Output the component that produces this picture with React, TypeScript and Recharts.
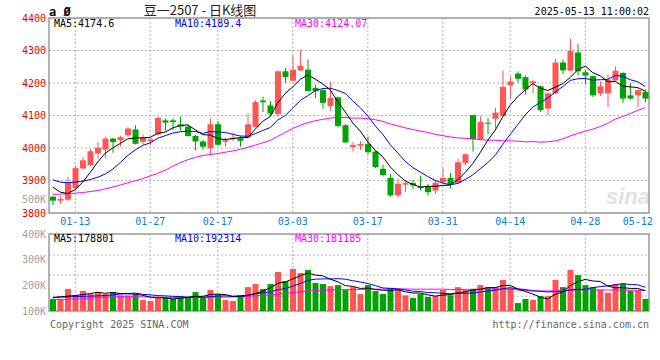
import React from 'react';
import { ComposedChart, Bar, Line, XAxis, YAxis, CartesianGrid, ReferenceArea, Cell } from 'recharts';

// 豆一2507 daily K line, 2025-01-08 .. 2025-05-13
const dates = [
  '01-08', '01-09', '01-10', '01-13', '01-14', '01-15', '01-16', '01-17', '01-20', '01-21',
  '01-22', '01-23', '01-24', '01-27', '02-05', '02-06', '02-07', '02-10', '02-11', '02-12',
  '02-13', '02-14', '02-17', '02-18', '02-19', '02-20', '02-21', '02-24', '02-25', '02-26',
  '02-27', '02-28', '03-03', '03-04', '03-05', '03-06', '03-07', '03-10', '03-11', '03-12',
  '03-13', '03-14', '03-17', '03-18', '03-19', '03-20', '03-21', '03-24', '03-25', '03-26',
  '03-27', '03-28', '03-31', '04-01', '04-02', '04-03', '04-07', '04-08', '04-09', '04-10',
  '04-11', '04-14', '04-15', '04-16', '04-17', '04-18', '04-21', '04-22', '04-23', '04-24',
  '04-25', '04-28', '04-29', '04-30', '05-06', '05-07', '05-08', '05-09', '05-12', '05-13',
];

const opens = [
  3850, 3838, 3841, 3876, 3937, 3947, 3983, 3995, 4029, 4024,
  4039, 4057, 4019, 4021, 4042, 4085, 4085, 4073, 4066, 4037,
  4020, 3999, 4073, 4019, 4027, 4030, 4032, 4065, 4146, 4131,
  4104, 4236, 4207, 4239, 4241, 4185, 4178, 4129, 4156, 4070,
  4003, 4007, 4012, 3989, 3936, 3908, 3854, 3887, 3892, 3880,
  3880, 3869, 3895, 3908, 3893, 3954, 4101, 4027, 4078, 4090,
  4098, 4193, 4229, 4218, 4200, 4190, 4121, 4168, 4263, 4238,
  4294, 4233, 4221, 4168, 4168, 4208, 4231, 4162, 4162, 4172,
];
const highs = [
  3853, 3852, 3911, 3946, 3972, 3997, 4018, 4034, 4031, 4038,
  4064, 4070, 4042, 4033, 4096, 4090, 4092, 4097, 4073, 4040,
  4025, 4091, 4083, 4032, 4048, 4037, 4106, 4147, 4158, 4144,
  4238, 4246, 4284, 4302, 4272, 4195, 4185, 4205, 4158, 4073,
  4019, 4021, 4035, 3991, 3949, 3920, 3907, 3897, 3902, 3915,
  3890, 3902, 3938, 3923, 3968, 3983, 4101, 4098, 4093, 4124,
  4239, 4219, 4236, 4223, 4210, 4192, 4170, 4275, 4272, 4336,
  4320, 4241, 4223, 4205, 4226, 4251, 4233, 4200, 4183, 4180,
];
const lows = [
  3825, 3828, 3836, 3872, 3934, 3944, 3967, 3970, 3985, 4004,
  4034, 4011, 4011, 4009, 4038, 4053, 4055, 4053, 4035, 3992,
  3995, 3978, 4007, 4004, 4022, 4004, 4029, 4063, 4111, 4099,
  4096, 4200, 4205, 4236, 4175, 4154, 4121, 4114, 4063, 4017,
  3989, 3994, 3981, 3938, 3912, 3851, 3847, 3864, 3873, 3869,
  3854, 3859, 3893, 3875, 3890, 3946, 3989, 4027, 4042, 4060,
  4098, 4152, 4200, 4165, 4168, 4111, 4100, 4168, 4226, 4236,
  4223, 4195, 4156, 4160, 4126, 4205, 4139, 4149, 4126, 4141,
];
const closes = [
  3838, 3843, 3893, 3938, 3962, 3990, 4001, 4029, 4018, 4033,
  4060, 4013, 4033, 4026, 4093, 4078, 4080, 4066, 4037, 4020,
  4004, 4073, 4010, 4024, 4032, 4022, 4073, 4141, 4141, 4106,
  4236, 4218, 4241, 4253, 4175, 4175, 4139, 4154, 4068, 4017,
  4009, 4012, 3987, 3941, 3917, 3854, 3890, 3892, 3885, 3877,
  3864, 3893, 3908, 3888, 3956, 3981, 4027, 4080, 4076, 4109,
  4188, 4205, 4213, 4180, 4205, 4117, 4168, 4263, 4239, 4299,
  4236, 4223, 4162, 4190, 4210, 4238, 4152, 4152, 4178, 4152,
];

const ma5 = [
  3880, 3864, 3860, 3872, 3895, 3925, 3957, 3984, 4000, 4014,
  4028, 4031, 4031, 4033, 4045, 4049, 4062, 4069, 4071, 4056,
  4041, 4040, 4029, 4026, 4029, 4032, 4032, 4058, 4082, 4097,
  4139, 4168, 4188, 4211, 4225, 4212, 4197, 4179, 4142, 4111,
  4077, 4052, 4019, 3993, 3973, 3942, 3918, 3899, 3888, 3880,
  3882, 3882, 3885, 3886, 3902, 3925, 3952, 3986, 4024, 4055,
  4096, 4132, 4158, 4179, 4198, 4184, 4177, 4187, 4198, 4217,
  4241, 4252, 4232, 4222, 4204, 4205, 4190, 4188, 4186, 4175,
];
const ma10 = [
  3902, 3895, 3893, 3895, 3898, 3903, 3910, 3920, 3935, 3955,
  3977, 3994, 4008, 4016, 4030, 4038, 4046, 4050, 4052, 4051,
  4045, 4051, 4049, 4048, 4042, 4037, 4036, 4044, 4054, 4063,
  4086, 4100, 4123, 4146, 4161, 4176, 4183, 4184, 4177, 4168,
  4145, 4124, 4099, 4068, 4042, 4010, 3985, 3959, 3940, 3926,
  3912, 3900, 3892, 3887, 3891, 3903, 3917, 3936, 3955, 3978,
  4011, 4042, 4072, 4102, 4126, 4140, 4154, 4172, 4189, 4208,
  4213, 4214, 4209, 4210, 4211, 4223, 4221, 4210, 4204, 4189,
];
const ma30 = [
  3857, 3858, 3859, 3861, 3863, 3866, 3869, 3874, 3880, 3886,
  3893, 3899, 3906, 3914, 3922, 3932, 3944, 3955, 3964, 3971,
  3977, 3980, 3983, 3987, 3991, 3996, 4002, 4009, 4016, 4023,
  4036, 4048, 4060, 4070, 4078, 4084, 4088, 4092, 4094, 4094,
  4092, 4092, 4090, 4087, 4082, 4074, 4068, 4062, 4057, 4052,
  4048, 4042, 4038, 4034, 4031, 4030, 4028, 4026, 4024, 4024,
  4022, 4022, 4021, 4019, 4020, 4018, 4019, 4022, 4028, 4037,
  4045, 4052, 4058, 4066, 4076, 4089, 4097, 4106, 4116, 4124,
];

const volumes = [
  147000, 146000, 186000, 161000, 178000, 166000, 174000, 166000, 174000, 161000,
  161000, 166000, 143000, 139000, 153000, 153000, 147000, 157000, 153000, 174000,
  153000, 182000, 166000, 143000, 139000, 161000, 193000, 205000, 186000, 205000,
  252000, 217000, 264000, 248000, 260000, 209000, 205000, 197000, 201000, 182000,
  193000, 166000, 201000, 178000, 166000, 190000, 182000, 161000, 151000, 166000,
  155000, 158000, 182000, 161000, 193000, 182000, 186000, 201000, 193000, 193000,
  221000, 190000, 131000, 147000, 143000, 158000, 158000, 221000, 193000, 260000,
  240000, 201000, 193000, 182000, 171000, 205000, 205000, 179000, 182000, 147000,
];
const volMa5 = [
  152000, 155000, 158000, 160000, 164000, 168000, 173000, 169000, 172000, 168000,
  167000, 166000, 161000, 154000, 152000, 151000, 147000, 150000, 153000, 157000,
  157000, 164000, 166000, 164000, 157000, 158000, 160000, 168000, 177000, 190000,
  208000, 213000, 225000, 237000, 248000, 240000, 237000, 224000, 214000, 199000,
  196000, 188000, 189000, 184000, 181000, 180000, 183000, 175000, 170000, 170000,
  163000, 158000, 162000, 164000, 170000, 175000, 181000, 185000, 191000, 191000,
  199000, 200000, 186000, 176000, 166000, 154000, 147000, 165000, 175000, 198000,
  214000, 223000, 217000, 215000, 197000, 190000, 191000, 188000, 188000, 178801,
];
const volMa10 = [
  153000, 154000, 155000, 156000, 157000, 158000, 159000, 160000, 163000, 166000,
  168000, 170000, 165000, 163000, 160000, 159000, 157000, 156000, 154000, 155000,
  154000, 156000, 158000, 159000, 157000, 158000, 162000, 167000, 171000, 174000,
  183000, 187000, 197000, 207000, 219000, 224000, 225000, 225000, 226000, 224000,
  218000, 213000, 207000, 199000, 190000, 188000, 186000, 182000, 177000, 176000,
  172000, 171000, 169000, 167000, 170000, 169000, 170000, 174000, 178000, 181000,
  187000, 191000, 186000, 184000, 179000, 177000, 174000, 176000, 176000, 182000,
  184000, 185000, 191000, 195000, 198000, 202000, 207000, 203000, 202000, 192314,
];
const volMa30 = [
  145000, 145000, 146000, 147000, 148000, 150000, 152000, 154000, 155000, 156000,
  156000, 156000, 155000, 154000, 154000, 153000, 153000, 153000, 153000, 153000,
  153000, 154000, 154000, 154000, 155000, 155000, 157000, 159000, 161000, 163000,
  166000, 169000, 172000, 175000, 178000, 180000, 181000, 182000, 183000, 183000,
  184000, 184000, 185000, 185000, 185000, 186000, 186000, 186000, 185000, 185000,
  185000, 185000, 185000, 184000, 184000, 184000, 185000, 185000, 186000, 186000,
  185000, 184000, 182000, 180000, 178000, 178000, 178000, 179000, 180000, 181000,
  182000, 182000, 183000, 182000, 182000, 182000, 181000, 181000, 181000, 181185,
];

const tickDates = ['01-13', '01-27', '02-17', '03-03', '03-17', '03-31', '04-14', '04-28', '05-12'];
const gridDates = tickDates.slice(0, -1);
const priceTicks = [3800, 3900, 4000, 4100, 4200, 4300, 4400];
const volTicks = [100000, 200000, 300000, 400000];
const volGrid = [158000, 240000, 318000];

const RED = '#ff5555';
const GREEN = '#00a400';
const MONO = '"DejaVu Sans Mono", monospace';

const rows = dates.map((d, i) => ({
  date: d,
  open: opens[i],
  high: highs[i],
  low: lows[i],
  close: closes[i],
  range: [lows[i], highs[i]],
  ma5: ma5[i],
  ma10: ma10[i],
  ma30: ma30[i],
  vol: volumes[i],
  vma5: volMa5[i],
  vma10: volMa10[i],
  vma30: volMa30[i],
}));

function Candle(props: any) {
  const { x, y, width, height, payload } = props;
  if (!payload) return null;
  const { open, close, high, low } = payload;
  const top0 = height < 0 ? y + height : y;
  const h = Math.abs(height);
  const span = high - low || 1;
  const py = (v: number) => top0 + ((high - v) / span) * h;
  const cx = x + width / 2;
  const bTop = py(Math.max(open, close));
  const bBot = py(Math.min(open, close));
  const color = close >= open ? RED : GREEN;
  return (
    <g>
      <line x1={cx} x2={cx} y1={top0} y2={top0 + h} stroke={color} strokeWidth={1} />
      <rect x={x} y={bTop} width={width} height={Math.max(bBot - bTop, 1)} fill={color} />
    </g>
  );
}

const lbl = { fontFamily: MONO, fontSize: 10 };

export default function App() {
  return (
    <div style={{ position: 'absolute', left: 0, top: 0, width: 660, height: 360, background: '#fff' }}>
      <svg width={660} height={360} style={{ position: 'absolute', left: 0, top: 0 }}>
        <text x={650} y={204} textAnchor="end" fontFamily="Verdana, sans-serif" fontStyle="italic" fontWeight="bold" fontSize={22} fill="#e2e2e2">sina</text>
      </svg>

      <div style={{ position: 'absolute', left: 0, top: 0 }}>
        <ComposedChart width={660} height={232} data={rows} margin={{ top: 18, right: 11, bottom: 0, left: 0 }}>
          <CartesianGrid stroke="#b4b4b4" strokeDasharray="2 2" verticalValues={gridDates} />
          <ReferenceArea y1={3800} y2={4400} fill="none" stroke="#9a9a9a" strokeWidth={1.5} />
          <XAxis dataKey="date" ticks={tickDates} interval={0} tickLine={false} axisLine={false} tickSize={0} tickMargin={5} height={19} tick={{ ...lbl, fill: '#0a7fd8' }} />
          <YAxis domain={[3800, 4400]} ticks={priceTicks} interval={0} width={49} tickLine={false} axisLine={false} tickSize={0} tickMargin={3} allowDataOverflow tick={{ ...lbl, fill: '#ee0000' }} />
          <Bar dataKey="range" barSize={6} shape={(p: any) => <Candle {...p} />} isAnimationActive={false} />
          <Line dataKey="ma30" stroke="#ff00ff" strokeWidth={1} dot={false} activeDot={false} isAnimationActive={false} />
          <Line dataKey="ma10" stroke="#0000ff" strokeWidth={1} dot={false} activeDot={false} isAnimationActive={false} />
          <Line dataKey="ma5" stroke="#000000" strokeWidth={1} dot={false} activeDot={false} isAnimationActive={false} />
        </ComposedChart>
      </div>

      <div style={{ position: 'absolute', left: 0, top: 226 }}>
        <ComposedChart width={660} height={92} data={rows} margin={{ top: 8, right: 11, bottom: 7, left: 0 }}>
          <CartesianGrid stroke="#b4b4b4" strokeDasharray="2 2" verticalValues={gridDates} horizontalValues={volGrid} />
          <ReferenceArea y1={100000} y2={400000} fill="none" stroke="#9a9a9a" strokeWidth={1.5} />
          <XAxis dataKey="date" hide />
          <YAxis domain={[100000, 400000]} ticks={volTicks} interval={0} width={49} tickLine={false} axisLine={false} tickSize={0} tickMargin={3} allowDataOverflow tickFormatter={(v: number) => `${v / 1000}K`} tick={{ ...lbl, fill: '#a0a0a0' }} />
          <Bar dataKey="vol" barSize={6} isAnimationActive={false}>
            {rows.map((r, i) => (
              <Cell key={i} fill={r.close >= r.open ? RED : GREEN} />
            ))}
          </Bar>
          <Line dataKey="vma30" stroke="#ff00ff" strokeWidth={1} dot={false} activeDot={false} isAnimationActive={false} />
          <Line dataKey="vma10" stroke="#0000ff" strokeWidth={1} dot={false} activeDot={false} isAnimationActive={false} />
          <Line dataKey="vma5" stroke="#000000" strokeWidth={1} dot={false} activeDot={false} isAnimationActive={false} />
        </ComposedChart>
      </div>

      <svg width={660} height={360} style={{ position: 'absolute', left: 0, top: 0, pointerEvents: 'none' }}>
        <text x={49} y={16} fontFamily={MONO} fontWeight="bold" fontSize={12} fill="#000">a Ø</text>
        <text x={200} y={15} textAnchor="middle" fontFamily='"Noto Sans CJK SC", sans-serif' fontSize={13} fill="#222">豆一2507 - 日K线图</text>
        <text x={649} y={15} textAnchor="end" {...lbl} fill="#000">2025-05-13 11:00:02</text>
        <text x={54} y={27} {...lbl} fill="#000">MA5:4174.6</text>
        <text x={175} y={27} {...lbl} fill="#0000ff">MA10:4189.4</text>
        <text x={295} y={27} {...lbl} fill="#ff00ff">MA30:4124.07</text>
        <text x={46} y={203} textAnchor="end" {...lbl} fill="#a0a0a0">500K</text>
        <text x={54} y={242} {...lbl} fill="#000">MA5:178801</text>
        <text x={175} y={242} {...lbl} fill="#0000ff">MA10:192314</text>
        <text x={295} y={242} {...lbl} fill="#ff00ff">MA30:181185</text>
        <text x={50} y={328} {...lbl} fill="#666">Copyright 2025 SINA.COM</text>
        <text x={649} y={328} textAnchor="end" {...lbl} fill="#666">http://finance.sina.com.cn</text>
      </svg>
    </div>
  );
}
